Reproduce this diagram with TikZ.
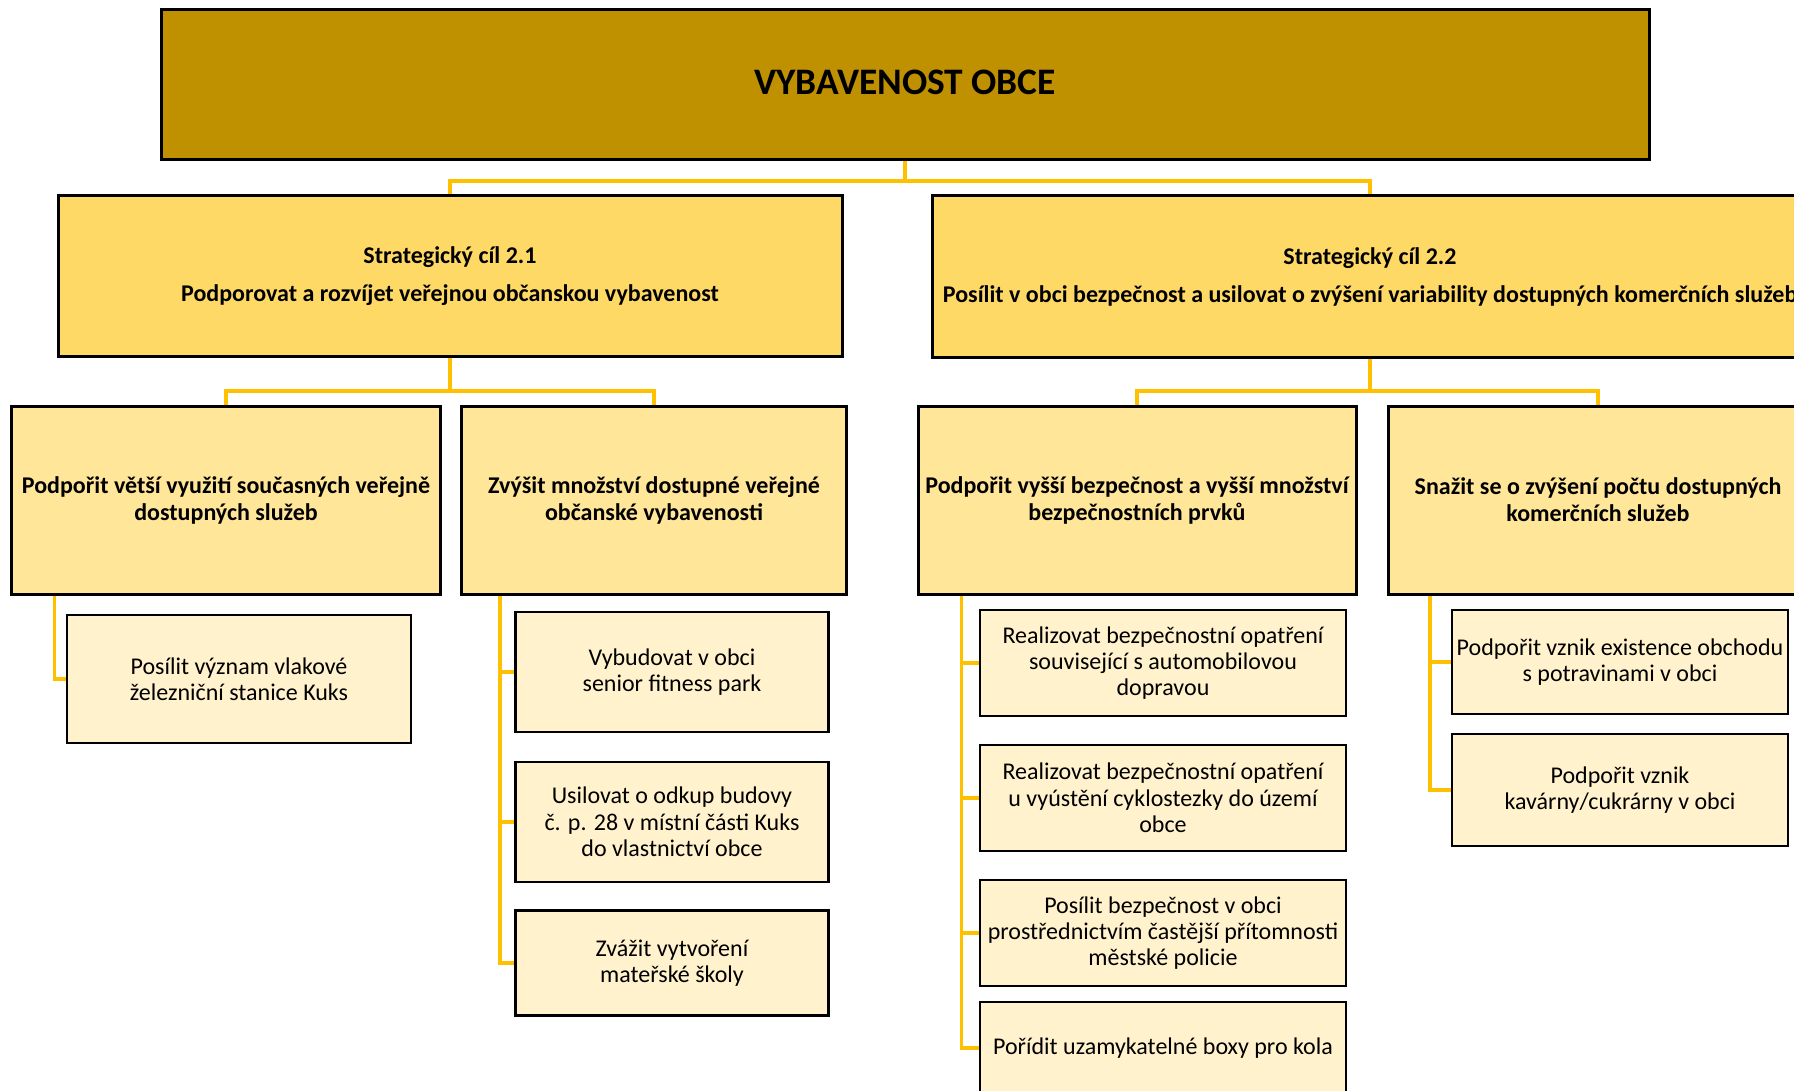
\documentclass[tikz,border=0pt]{standalone}
\usepackage{fontspec}
\setmainfont{Carlito}
\usetikzlibrary{backgrounds}
\definecolor{topc}{HTML}{BF9000}
\definecolor{lvone}{HTML}{FFD966}
\definecolor{lvtwo}{HTML}{FFE699}
\definecolor{lvthree}{HTML}{FFF2CC}
\definecolor{linec}{HTML}{FFC000}
\tikzset{
  boxbase/.style={draw=black, line width=1.5pt, inner sep=0pt, align=center, text=black},
  topbox/.style={boxbase, fill=topc, font=\fontsize{18.7}{22}\selectfont\bfseries},
  sbox/.style={boxbase, fill=lvone, font=\fontsize{12}{13.5}\selectfont\bfseries},
  mbox/.style={boxbase, fill=lvtwo, font=\fontsize{12}{13.5}\selectfont\bfseries},
  lbox/.style={boxbase, line width=1.3pt, fill=lvthree, font=\fontsize{12}{13.2}\selectfont},
  connA/.style={draw=linec, line width=2.4pt},
  connB/.style={draw=linec, line width=2.1pt},
  connC/.style={draw=linec, line width=1.8pt},
}
\begin{document}
\begin{tikzpicture}[x=0.5pt, y=-0.5pt]
\useasboundingbox (0,0) rectangle (1794,1091);
\clip (0,0) rectangle (1794,1091);

% level 0
\node[topbox, minimum width=744pt, minimum height=75pt] (top) at (905,85) {};
\node[font=\fontsize{18.7}{22}\selectfont\bfseries, text=black] (toptext) at (905,82) {VYBAVENOST OBCE};

% level 1
\node[sbox, minimum width=392pt, minimum height=80pt] (s1) at (450,276)
  {Strategický cíl 2.1\\[5.5pt]Podporovat a rozvíjet veřejnou občanskou vybavenost};
\node[sbox, minimum width=438pt, minimum height=80.5pt] (s2) at (1370,276.5)
  {Strategický cíl 2.2\\[5.5pt]Posílit v obci bezpečnost a usilovat o zvýšení variability dostupných komerčních služeb};

% level 2
\node[mbox, minimum width=214.5pt, minimum height=94pt] (a) at (226,500)
  {Podpořit větší využití současných veřejně\\dostupných služeb};
\node[mbox, minimum width=192.5pt, minimum height=94pt] (b) at (654,500)
  {Zvýšit množství dostupné veřejné\\občanské vybavenosti};
\node[mbox, minimum width=219pt, minimum height=94pt] (c) at (1137,500)
  {Podpořit vyšší bezpečnost a vyšší množství\\bezpečnostních prvků};
\node[mbox, minimum width=209.5pt, minimum height=94pt] (d) at (1598,500)
  {Snažit se o zvýšení počtu dostupných\\komerčních služeb};

% level 3
\node[lbox, minimum width=172pt, minimum height=64pt] (a1) at (239,679)
  {Posílit význam vlakové\\železniční stanice Kuks};

\node[lbox, minimum width=156.5pt, minimum height=60pt] (b1) at (672,672)
  {Vybudovat v obci\\senior fitness park};
\node[lbox, minimum width=156.5pt, minimum height=60pt] (b2) at (672,822)
  {Usilovat o odkup budovy\\č. p. 28 v místní části Kuks\\do vlastnictví obce};
\node[lbox, minimum width=156.5pt, minimum height=52.5pt] (b3) at (672,963)
  {Zvážit vytvoření\\mateřské školy};

\node[lbox, minimum width=183pt, minimum height=53pt] (c1) at (1163,663)
  {Realizovat bezpečnostní opatření\\související s automobilovou\\dopravou};
\node[lbox, minimum width=183pt, minimum height=53pt] (c2) at (1163,798)
  {Realizovat bezpečnostní opatření\\u vyústění cyklostezky do území\\obce};
\node[lbox, minimum width=183pt, minimum height=53pt] (c3) at (1163,933)
  {Posílit bezpečnost v obci\\prostřednictvím častější přítomnosti\\městské policie};
\node[lbox, minimum width=183pt, minimum height=46pt] (c4) at (1163,1048)
  {Pořídit uzamykatelné boxy pro kola};

\node[lbox, minimum width=168pt, minimum height=52pt] (d1) at (1620,662)
  {Podpořit vznik existence obchodu\\s potravinami v obci};
\node[lbox, minimum width=168pt, minimum height=56pt] (d2) at (1620,790)
  {Podpořit vznik\\kavárny/cukrárny v obci};

% connectors
\begin{pgfonlayer}{background}
  \coordinate (busone) at (905,181);
  \draw[connA] (top.south) -- (busone) -| (s1.north);
  \draw[connA] (busone) -| (s2.north);

  \coordinate (bustwoL) at (450,391);
  \draw[connB] (s1.south) -- (bustwoL) -| (a.north);
  \draw[connB] (bustwoL) -| (b.north);
  \coordinate (bustwoR) at (1370,391);
  \draw[connB] (s2.south) -- (bustwoR) -| (c.north);
  \draw[connB] (bustwoR) -| (d.north);

  \coordinate (spa) at (54.5,590);
  \draw[connC] (spa) |- (a1.west);

  \coordinate (spb) at (500,590);
  \draw[connC] (spb) |- (b3.west);
  \draw[connC] (spb |- b1.west) -- (b1.west);
  \draw[connC] (spb |- b2.west) -- (b2.west);

  \coordinate (spc) at (961.5,590);
  \draw[connC] (spc) |- (c4.west);
  \draw[connC] (spc |- c1.west) -- (c1.west);
  \draw[connC] (spc |- c2.west) -- (c2.west);
  \draw[connC] (spc |- c3.west) -- (c3.west);

  \coordinate (spd) at (1430,590);
  \draw[connC] (spd) |- (d2.west);
  \draw[connC] (spd |- d1.west) -- (d1.west);
\end{pgfonlayer}
\end{tikzpicture}
\end{document}
